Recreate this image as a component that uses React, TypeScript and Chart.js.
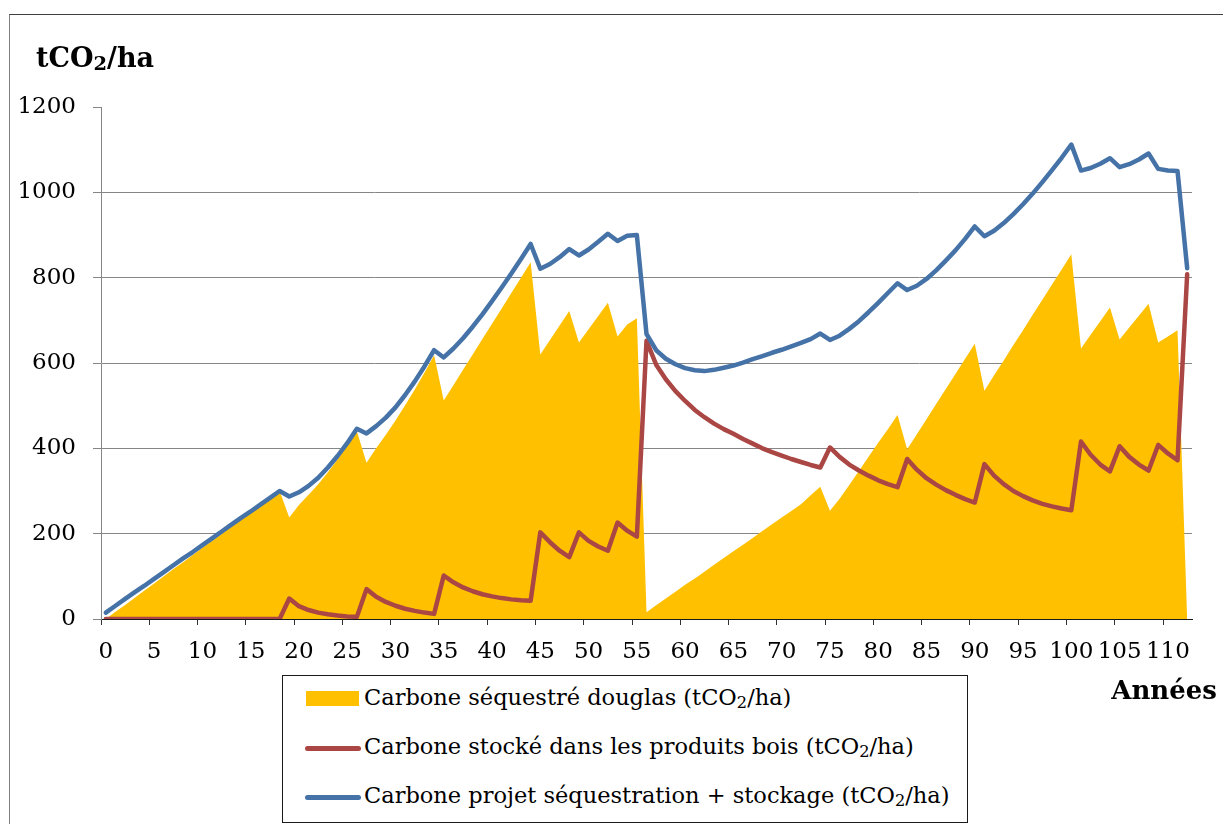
import React, { useEffect, useRef } from "react";
import { Chart, registerables } from "chart.js";

Chart.register(...registerables);

// Years (categories)
const years = [
  0, 1, 2, 3, 4, 5, 6, 7, 8, 9, 10, 11, 12, 13, 14, 15, 16, 17, 18, 19,
  20, 21, 22, 23, 24, 25, 26, 27, 28, 29, 30, 31, 32, 33, 34, 35, 36, 37, 38, 39,
  40, 41, 42, 43, 44, 45, 46, 47, 48, 49, 50, 51, 52, 53, 54, 55, 56, 57, 58, 59,
  60, 61, 62, 63, 64, 65, 66, 67, 68, 69, 70, 71, 72, 73, 74, 75, 76, 77, 78, 79,
  80, 81, 82, 83, 84, 85, 86, 87, 88, 89, 90, 91, 92, 93, 94, 95, 96, 97, 98, 99,
  100, 101, 102, 103, 104, 105, 106, 107, 108, 109, 110, 111, 112,
];

// Carbone séquestré douglas (tCO2/ha)
const sequestered = [
  0, 17, 33, 50, 67, 83, 100, 117, 133, 150, 167, 183, 200, 217, 233, 250, 267, 283, 300, 238,
  267, 291, 316, 344, 374, 406, 440, 366, 400, 432, 465, 501, 538, 577, 618, 512, 548, 584, 620, 656,
  692, 728, 764, 800, 836, 620, 654, 688, 722, 648, 679, 710, 741, 662, 690, 705, 16, 32, 48, 64,
  80, 95, 111, 127, 143, 159, 174, 190, 206, 222, 238, 253, 269, 290, 310, 254, 282, 314, 347, 380,
  413, 445, 478, 398, 433, 468, 504, 539, 574, 610, 645, 535, 571, 606, 642, 677, 713, 748, 784, 819,
  855, 634, 666, 698, 730, 655, 683, 711, 739, 648, 662, 677, 0,
];

// Carbone stocké dans les produits bois (tCO2/ha)
const stored = [
  0, 0, 0, 0, 0, 0, 0, 0, 0, 0, 0, 0, 0, 0, 0, 0, 0, 0, 0, 48,
  30, 21, 15, 11, 8, 6, 5, 70, 52, 40, 31, 24, 19, 15, 12, 102, 86, 74, 65, 58,
  53, 49, 46, 44, 43, 203, 180, 160, 145, 203, 183, 170, 160, 226, 207, 193, 652, 596, 562, 534,
  511, 490, 473, 458, 445, 434, 422, 411, 400, 391, 383, 375, 368, 361, 355, 402, 380, 362, 348, 336,
  325, 316, 309, 375, 350, 330, 315, 302, 291, 281, 273, 363, 336, 316, 300, 288, 278, 270, 264, 259,
  255, 416, 385, 362, 346, 405, 380, 362, 348, 408, 388, 372, 808,
];

// Carbone projet séquestration + stockage (tCO2/ha)
const project = [
  15, 31, 47, 63, 78, 94, 110, 126, 142, 157, 173, 189, 205, 221, 237, 252, 268, 284, 300, 287,
  297, 312, 331, 355, 382, 412, 446, 435, 452, 472, 496, 525, 557, 592, 630, 613, 634, 658, 685, 714,
  745, 777, 810, 844, 879, 821, 832, 848, 867, 852, 866, 884, 903, 886, 898, 900, 668, 630, 610, 597,
  588, 583, 581, 584, 589, 594, 601, 609, 616, 624, 631, 639, 647, 656, 669, 654, 664, 680, 698, 719,
  741, 764, 787, 771, 781, 797, 817, 840, 864, 891, 920, 897, 910, 928, 949, 972, 997, 1024, 1052, 1081,
  1112, 1051, 1057, 1067, 1080, 1059, 1066, 1077, 1091, 1055, 1051, 1050, 822,
];

const seriesNames = [
  "Carbone séquestré douglas (tCO₂/ha)",
  "Carbone stocké dans les produits bois (tCO₂/ha)",
  "Carbone projet séquestration + stockage (tCO₂/ha)",
];
const seriesColors = ["#FFC000", "#AA4643", "#4572A7"];

const yMin = 0;
const yMax = 1200;
const yStep = 200;
const xLabelEvery = 5;

const FONT = "'DejaVu Serif', serif";

const Sub2 = ({ shift }: { shift: number }) => (
  <span style={{ fontSize: "0.72em", position: "relative", top: shift }}>2</span>
);

export default function App() {
  const ref = useRef<HTMLCanvasElement | null>(null);

  useEffect(() => {
    if (!ref.current) return;
    const chart = new Chart(ref.current, {
      type: "line",
      data: {
        labels: years.map(String),
        datasets: [
          {
            label: seriesNames[2],
            data: project,
            borderColor: seriesColors[2],
            backgroundColor: seriesColors[2],
            borderWidth: 4.5,
            pointRadius: 0,
            fill: false,
            tension: 0,
            borderJoinStyle: "round",
            borderCapStyle: "round",
            order: 1,
          },
          {
            label: seriesNames[1],
            data: stored,
            borderColor: seriesColors[1],
            backgroundColor: seriesColors[1],
            borderWidth: 4.5,
            pointRadius: 0,
            fill: false,
            tension: 0,
            borderJoinStyle: "round",
            borderCapStyle: "round",
            order: 2,
          },
          {
            label: seriesNames[0],
            data: sequestered,
            borderColor: seriesColors[0],
            backgroundColor: seriesColors[0],
            borderWidth: 0,
            pointRadius: 0,
            fill: "origin",
            tension: 0,
            order: 3,
          },
        ],
      },
      options: {
        responsive: false,
        animation: false,
        devicePixelRatio: 1,
        layout: { padding: { left: 0, top: 107, right: 31, bottom: 0 } },
        plugins: {
          legend: { display: false },
          tooltip: { enabled: false },
          title: { display: false },
        },
        scales: {
          x: {
            type: "category",
            offset: true,
            grid: {
              offset: true,
              drawOnChartArea: false,
              drawTicks: true,
              tickLength: 6,
              tickWidth: 1,
              tickColor: (ctx: any) =>
                typeof ctx.index === "number" && ctx.index % xLabelEvery === 0
                  ? "#333333"
                  : "rgba(0,0,0,0)",
            },
            border: { color: "#1a1a1a", width: 1 },
            ticks: {
              autoSkip: false,
              maxRotation: 0,
              minRotation: 0,
              padding: 13,
              color: "#000",
              font: { family: FONT, size: 23 },
              callback: (_v: any, i: number) => (i % xLabelEvery === 0 ? String(years[i]) : ""),
            },
            afterFit: (s: any) => {
              s.height = 205;
            },
          },
          y: {
            min: yMin,
            max: yMax,
            grid: {
              color: (ctx: any) =>
                ctx.tick && ctx.tick.value === yMax ? "rgba(0,0,0,0)" : "#868686",
              tickColor: "#868686",
              tickLength: 8,
              lineWidth: 1,
            },
            border: { color: "#868686", width: 1 },
            ticks: {
              stepSize: yStep,
              padding: 17,
              color: "#000",
              font: { family: FONT, size: 23 },
              callback: (v: any) => String(v),
            },
            afterFit: (s: any) => {
              s.width = 101;
            },
          },
        },
      },
    });
    return () => chart.destroy();
  }, []);

  const textBase: React.CSSProperties = {
    position: "absolute",
    fontFamily: FONT,
    color: "#000",
    whiteSpace: "nowrap",
    margin: 0,
  };

  const legendRows = [
    { top: 686, kind: "box" },
    { top: 735, kind: "line" },
    { top: 784, kind: "line" },
  ];

  return (
    <div
      style={{
        position: "fixed",
        left: 0,
        top: 0,
        width: 1223,
        height: 824,
        background: "#fff",
        overflow: "hidden",
      }}
    >
      {/* outer frame */}
      <div
        style={{
          position: "absolute",
          left: 9,
          top: 14,
          width: 1300,
          height: 900,
          borderLeft: "1px solid #808080",
          borderTop: "1px solid #404040",
        }}
      />
      <canvas
        ref={ref}
        width={1223}
        height={824}
        style={{ position: "absolute", left: 0, top: 0, width: 1223, height: 824 }}
      />
      {/* Y axis title */}
      <div
        style={{
          ...textBase,
          left: 36,
          top: 44,
          fontSize: 27,
          lineHeight: "27px",
          fontWeight: 700,
        }}
      >
        tCO<Sub2 shift={3} />/ha
      </div>
      {/* X axis title */}
      <div
        style={{
          ...textBase,
          right: 6,
          top: 677,
          fontSize: 26,
          lineHeight: "26px",
          fontWeight: 700,
        }}
      >
        Années
      </div>
      {/* Legend */}
      <div
        style={{
          position: "absolute",
          left: 282,
          top: 675,
          width: 686,
          height: 148,
          boxSizing: "border-box",
          border: "1px solid #1a1a1a",
          background: "#fff",
        }}
      />
      {legendRows.map((r, i) => (
        <React.Fragment key={i}>
          {r.kind === "box" ? (
            <div
              style={{
                position: "absolute",
                left: 306,
                top: 691,
                width: 53,
                height: 15,
                background: seriesColors[i],
              }}
            />
          ) : (
            <div
              style={{
                position: "absolute",
                left: 305,
                top: r.top + 11,
                width: 56,
                height: 5,
                borderRadius: 3,
                background: seriesColors[i],
              }}
            />
          )}
          <div
            style={{
              ...textBase,
              left: 364,
              top: r.top,
              fontSize: 22.5,
              lineHeight: "22.5px",
            }}
          >
            {seriesNames[i].split("₂")[0]}
            <Sub2 shift={3} />
            {seriesNames[i].split("₂")[1]}
          </div>
        </React.Fragment>
      ))}
    </div>
  );
}
